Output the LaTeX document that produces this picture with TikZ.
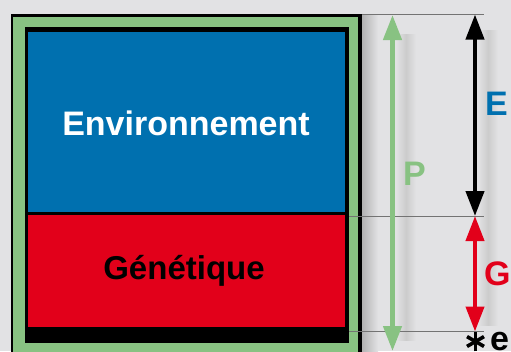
\documentclass[tikz,border=0pt]{standalone}
\usepackage{fontspec}
\setmainfont{Liberation Sans}
\usetikzlibrary{arrows.meta,calc}
\definecolor{bg}{HTML}{E2E2E4}
\definecolor{envblue}{HTML}{0070AF}
\definecolor{genred}{HTML}{E2001A}
\definecolor{pgreen}{HTML}{88C282}
\definecolor{rule}{HTML}{737373}
\tikzset{
  lbl/.style={inner sep=0pt, font=\fontsize{34}{34}\selectfont\bfseries},
  dim/.style={line width=4.2pt, {Triangle[width=18pt,length=25pt]}-{Triangle[width=18pt,length=25pt]}, shorten <=0pt, shorten >=0pt},
  guide/.style={draw=rule, line width=1pt},
  shade/.style={shading=axis, left color=bg, right color=bg, middle color=black!20, shading angle=90},
  spoke/.style={line width=3.6pt},
}
\begin{document}
\begin{tikzpicture}[x=1pt,y=-1pt]
\useasboundingbox (0,0) rectangle (511,351);
\fill[bg] (0,0) rectangle (511,351);
\begin{scope}
\clip (0,0) rectangle (511,351);
% shadows
\shade[left color=black!30, right color=bg] (362,14) rectangle (378,351);
\shade[shade] (396,34) rectangle (416,340);
\shade[shade] (478,30) rectangle (498,325);
% frame
\fill[black] (11,14) rectangle (362,360);
\fill[pgreen] (13,16.5) rectangle (358,360);
\fill[black] (25,27) rectangle (349,343);
% guides
\draw[guide] (362,14.5) coordinate (t0) -- (484,14.5) coordinate (t1);
\draw[guide] (349,216) coordinate (m0) -- (484,216) coordinate (m1);
\draw[guide] (349,331.5) coordinate (b0) -- (484,331.5) coordinate (b1);
% boxes
\node[fill=envblue, inner sep=0pt, minimum width=317pt, minimum height=180pt, anchor=north west] (env) at (28,32) {};
\node[fill=genred, inner sep=0pt, minimum width=317pt, minimum height=112pt, anchor=north west] (gen) at (28,215) {};
\node[lbl, text=white, anchor=base] (envt) at (186,135) {Environnement};
\node[lbl, font=\fontsize{33}{33}\selectfont\bfseries, text=black, anchor=base] (gent) at (184,279) {Génétique};
% arrows
\coordinate (ptop) at (392.5,15);
\coordinate (pbot) at (392.5,351);
\coordinate (etop) at (475,14.5);
\coordinate (emid) at (475,216);
\coordinate (gbot) at (475,331.5);
\draw[dim, pgreen, line width=4.5pt] (pbot) -- (ptop);
\draw[dim, black] (etop) -- (emid);
\draw[dim, genred] (emid) -- (gbot);
% labels
\node[lbl, text=pgreen, anchor=base west] (pl) at (403,185) {P};
\node[lbl, text=envblue, anchor=base west] (el) at (485,115) {E};
\node[lbl, text=genred, anchor=base west] (gl) at (484,285) {G};
\coordinate (ast) at (475.5,341.5);
\draw[spoke] ($(ast)+(90:9.8)$) -- ($(ast)+(270:9.8)$);
\draw[spoke] ($(ast)+(30:9.8)$) -- ($(ast)+(210:9.8)$);
\draw[spoke] ($(ast)+(150:9.8)$) -- ($(ast)+(330:9.8)$);
\node[lbl, text=black, anchor=base west] (el2) at (490,350) {e};
\end{scope}
\end{tikzpicture}
\end{document}
